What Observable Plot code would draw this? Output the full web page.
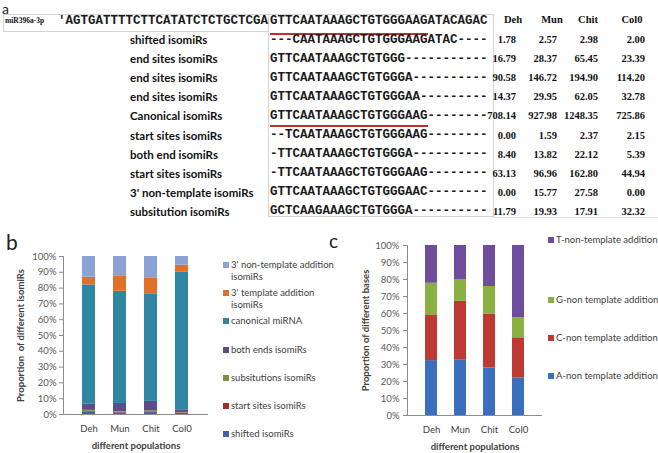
<!DOCTYPE html>
<html><head><meta charset="utf-8">
<script src="https://cdn.jsdelivr.net/npm/d3@7"></script>
<script src="https://cdn.jsdelivr.net/npm/@observablehq/plot@0.6"></script>
<style>
body{margin:0;background:#fff;}
#fig{position:relative;width:658px;height:453px;overflow:hidden;font-family:Lato,"Open Sans",sans-serif;background:#fff;}
.abs{position:absolute;white-space:nowrap;}
.box{position:absolute;border:1px solid #d4d4d4;box-sizing:border-box;}
</style></head><body><div id="fig"></div>
<script>
// ---------- Panel a data ----------
const refName = "miR396a-3p";
const refUpstream = "'AGTGATTTTCTTCATATCTCTGCTCGA";
const refSequence = "GTTCAATAAAGCTGTGGGAAGATACAGAC";
const rowLabels = ["shifted isomiRs","end sites isomiRs","end sites isomiRs","end sites isomiRs","Canonical isomiRs","start sites isomiRs","both end isomiRs","start sites isomiRs","3' non-template isomiRs","subsitution isomiRs"];
const sequences = [
  "---CAATAAAGCTGTGGGAAGATAC----",
  "GTTCAATAAAGCTGTGGG-----------",
  "GTTCAATAAAGCTGTGGGA----------",
  "GTTCAATAAAGCTGTGGGAA---------",
  "GTTCAATAAAGCTGTGGGAAG--------",
  "--TCAATAAAGCTGTGGGAAG--------",
  "-TTCAATAAAGCTGTGGGA----------",
  "-TTCAATAAAGCTGTGGGAAG--------",
  "GTTCAATAAAGCTGTGGGAAC--------",
  "GCTCAAGAAAGCTGTGGGA----------"
];
const populations = ["Deh","Mun","Chit","Col0"];
const countDeh  = [1.78,16.79,90.58,14.37,708.14,0.00,8.40,63.13,0.00,11.79];
const countMun  = [2.57,28.37,146.72,29.95,927.98,1.59,13.82,96.96,15.77,19.93];
const countChit = [2.98,65.45,194.90,62.05,1248.35,2.37,22.12,162.80,27.58,17.91];
const countCol0 = [2.00,23.39,114.20,32.78,725.86,2.15,5.39,44.94,0.00,32.32];

// ---------- Panel b data (percent, per population) ----------
const isomiRTypes = ["shifted isomiRs","start sites isomiRs","subsitutions isomiRs","both ends isomiRs","canonical miRNA","3' template addition isomiRs","3' non-template addition isomiRs"];
const shifted       = [1.5,1.0,1.2,0.8];
const startSites    = [0.5,0.4,0.5,0.3];
const substitutions = [0.6,0.5,0.6,0.2];
const bothEnds      = [3.9,5.1,6.0,1.7];
const canonical     = [75.5,71.0,68.1,87.0];
const template3     = [4.9,9.8,10.1,4.5];
const nonTemplate3  = [13.1,12.2,13.5,5.5];

// ---------- Panel c data (percent, per population) ----------
const baseTypes = ["A-non template addition","C-non template addition","G-non template addition","T-non-template addition"];
const baseA = [32.3,32.8,27.9,22.0];
const baseC = [26.5,34.4,31.8,23.7];
const baseG = [19.0,12.8,16.2,11.8];
const baseT = [22.2,20.0,24.1,42.5];

const yTicks = [0,10,20,30,40,50,60,70,80,90,100];

// ---------- styles ----------
const isoColors  = ["#3C64AA","#A0302E","#78963C","#5F4A8B","#2E86A0","#E2702A","#8CA2D4"];
const baseColors = ["#3A6FBE","#BE3834","#8AB043","#6E4D9C"];

const fig = document.getElementById("fig");
function add(html, style, cls="abs"){
  const d = document.createElement("div");
  d.className = cls; d.innerHTML = html;
  Object.assign(d.style, style);
  fig.appendChild(d); return d;
}
const esc = s => s.replace(/&/g,"&amp;").replace(/</g,"&lt;");

// panel letters
add("a",{left:"2px",top:"0px",fontSize:"14px",lineHeight:"17px",color:"#222"});
add("b",{left:"6px",top:"231px",fontSize:"21px",lineHeight:"21px",color:"#222"});
add("c",{left:"329px",top:"231px",fontSize:"19px",lineHeight:"19px",color:"#222"});

// ---------- panel a ----------
add("",{left:"3px",top:"14px",width:"266px",height:"18px"},"box");
add("",{left:"268px",top:"14px",width:"226px",height:"203px"},"box");
add("",{left:"493px",top:"217px",width:"165px",height:"1px",background:"#e2e2e2"});
add(esc(refName),{left:"5px",top:"16px",fontFamily:"'Liberation Serif',serif",fontWeight:"bold",fontSize:"7.5px",lineHeight:"9px",color:"#111"});
const mono = {fontFamily:"'Liberation Mono',monospace",fontWeight:"bold",fontSize:"12.5px",lineHeight:"13px",color:"#1a1a1a"};
add(esc(refUpstream),Object.assign({left:"58px",top:"15px"},mono));
const matureLen = sequences[4].replace(/-+$/,"").length;
function seqHtml(s, underline, pad){
  if(!underline) return esc(s);
  return `<span style="border-bottom:2px solid #C0302A;padding-bottom:${pad}px">${esc(s.slice(0,matureLen))}</span>${esc(s.slice(matureLen))}`;
}
add(seqHtml(refSequence,true,5),Object.assign({left:"270px",top:"15px",height:"22px"},mono));
const hdrX = [513,552,588,632];
const numRight = [516,557,598,645];
const serifNum = {fontFamily:"'Liberation Serif',serif",fontWeight:"bold",fontSize:"10.5px",lineHeight:"12px",color:"#111"};
populations.forEach((p,k)=>{
  add(esc(p),Object.assign({left:(hdrX[k]-30)+"px",width:"60px",textAlign:"center",top:"14px"},serifNum));
});
const counts = [countDeh,countMun,countChit,countCol0];
rowLabels.forEach((lab,i)=>{
  const y = 40 + i*19.1;
  add(esc(lab),{left:"130px",top:(y-7)+"px",fontSize:"11.5px",lineHeight:"14px",fontWeight:"bold",color:"#111"});
  add(seqHtml(sequences[i], i===4, 2),Object.assign({left:"270px",top:(y-6.5)+"px",height:"17px"},mono));
  counts.forEach((col,k)=>{
    add(col[i].toFixed(2),Object.assign({left:(numRight[k]-60)+"px",width:"60px",textAlign:"right",top:(y-6)+"px"},serifNum));
  });
});

// ---------- panel b ----------
const isoValues = [shifted,startSites,substitutions,bothEnds,canonical,template3,nonTemplate3];
const bData = populations.flatMap((p,i)=>isomiRTypes.map((t,j)=>({pop:p,type:t,value:isoValues[j][i]})));
const axisGray = "#8c8c8c";
const plotB = Plot.plot({
  width:215, height:213, marginLeft:63, marginRight:7, marginTop:16, marginBottom:39,
  style:{fontFamily:"Lato, sans-serif",fontSize:"9.5px",color:"#595959",background:"transparent",overflow:"visible"},
  x:{domain:populations,padding:0.58,label:null},
  y:{domain:[0,100],label:null},
  color:{domain:isomiRTypes,range:isoColors},
  marks:[
    Plot.barY(bData,{x:"pop",y:"value",fill:"type",order:isomiRTypes}),
    Plot.ruleY([0],{stroke:axisGray}),
    Plot.frame({anchor:"left",stroke:axisGray}),
    Plot.axisY({ticks:yTicks,tickFormat:d=>d+"%",tickSize:4,tickPadding:3,stroke:axisGray,fill:"#595959",label:null}),
    Plot.axisX({tickSize:0,tickPadding:11,fill:"#404040",label:null}),
    Plot.text(["Proportion  of different isomiRs"],{frameAnchor:"left",textAnchor:"middle",dx:-43,rotate:-90,fontWeight:"bold",fill:"#404040",fontSize:9.5}),
    Plot.text(["different populations"],{frameAnchor:"bottom",dy:34,fontWeight:"bold",fill:"#404040",fontSize:9.5})
  ]
});
Object.assign(plotB.style,{position:"absolute",left:"0px",top:"240px"});
fig.appendChild(plotB);

const legB = isomiRTypes.slice().reverse();
const legBColors = isoColors.slice().reverse();
legB.forEach((t,k)=>{
  const y = 265 + k*28.2;
  const html = t.length > 22 ? esc(t).replace(/ (isomiRs)$/,"<br>$1") : esc(t);
  add("",{left:"223px",top:(y-3)+"px",width:"6px",height:"6px",background:legBColors[k]});
  add(html,{left:"231px",top:(y-6)+"px",fontSize:"9.5px",lineHeight:"12px",color:"#404040"});
});

// ---------- panel c ----------
const baseValues = [baseA,baseC,baseG,baseT];
const cData = populations.flatMap((p,i)=>baseTypes.map((t,j)=>({pop:p,type:t,value:baseValues[j][i]})));
const plotC = Plot.plot({
  width:215, height:221, marginLeft:77, marginRight:3, marginTop:13, marginBottom:38,
  style:{fontFamily:"Lato, sans-serif",fontSize:"9.5px",color:"#595959",background:"transparent",overflow:"visible"},
  x:{domain:populations,padding:0.6,label:null},
  y:{domain:[0,100],label:null},
  color:{domain:baseTypes,range:baseColors},
  marks:[
    Plot.barY(cData,{x:"pop",y:"value",fill:"type",order:baseTypes}),
    Plot.ruleY([0],{stroke:axisGray}),
    Plot.frame({anchor:"left",stroke:axisGray}),
    Plot.axisY({ticks:yTicks,tickFormat:d=>d+"%",tickSize:4,tickPadding:4,stroke:axisGray,fill:"#595959",label:null}),
    Plot.axisX({tickSize:0,tickPadding:11,fill:"#404040",label:null}),
    Plot.text(["Proportion of different bases"],{frameAnchor:"left",textAnchor:"middle",dx:-42,rotate:-90,fontWeight:"bold",fill:"#404040",fontSize:9.5}),
    Plot.text(["different populations"],{frameAnchor:"bottom",dy:34,fontWeight:"bold",fill:"#404040",fontSize:9.5})
  ]
});
Object.assign(plotC.style,{position:"absolute",left:"330px",top:"232px"});
fig.appendChild(plotC);

const legCY = [240,300,338,376];
baseTypes.slice().reverse().forEach((t,k)=>{
  const y = legCY[k];
  add("",{left:"548px",top:(y-3)+"px",width:"6px",height:"6px",background:baseColors[baseColors.length-1-k]});
  add(esc(t),{left:"556px",top:(y-6)+"px",fontSize:"9.5px",lineHeight:"12px",color:"#404040"});
});
</script></body></html>
